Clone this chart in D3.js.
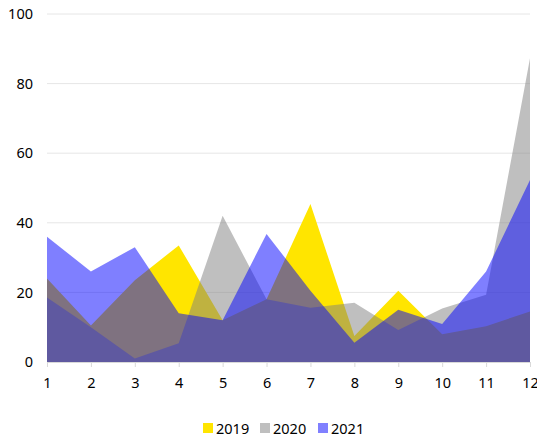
<!DOCTYPE html>
<html>
<head>
<meta charset="utf-8">
<script src="https://cdn.jsdelivr.net/npm/d3@7/dist/d3.min.js"></script>
<style>
  html, body { margin: 0; padding: 0; background: #fff; }
  svg { display: block; font-family: "Noto Sans", "Open Sans", sans-serif; }
</style>
</head>
<body>
<svg id="chart" width="537" height="438"></svg>
<script>
// Monthly values per year
const months = [1, 2, 3, 4, 5, 6, 7, 8, 9, 10, 11, 12];
const values2019 = [24, 10.5, 23.5, 33.5, 12, 18, 45.4, 7.5, 20.5, 8, 10.3, 14.5];
const values2020 = [18.5, 10, 1, 5.4, 42, 18, 15.6, 17, 9.2, 15.4, 19.3, 87.3];
const values2021 = [36, 26, 33, 14, 12, 36.8, 20.5, 5.5, 15, 10.9, 26, 52.3];
const yTicks = [0, 20, 40, 60, 80, 100];
const seriesNames = ["2019", "2020", "2021"];

const series = [
  { name: seriesNames[0], values: values2019, fill: "#ffe500", opacity: 1 },
  { name: seriesNames[1], values: values2020, fill: "#808080", opacity: 0.5 },
  { name: seriesNames[2], values: values2021, fill: "#0000ff", opacity: 0.5 }
];

const svg = d3.select("#chart");
const plotLeft = 47, plotRight = 530, plotTop = 14, plotBottom = 362;

const x = d3.scaleLinear().domain([1, 12]).range([plotLeft, plotRight]);
const y = d3.scaleLinear().domain([0, 100]).range([plotBottom, plotTop]);

// Horizontal gridlines
svg.append("g")
  .selectAll("line")
  .data(yTicks.filter(d => d > 0))
  .join("line")
  .attr("x1", plotLeft).attr("x2", plotRight)
  .attr("y1", d => y(d)).attr("y2", d => y(d))
  .attr("stroke", "#e6e6e6").attr("stroke-width", 1);

// Areas, drawn in year order
const area = d3.area()
  .x((d, i) => x(months[i]))
  .y0(y(0))
  .y1(d => y(d));

svg.append("g")
  .selectAll("path")
  .data(series)
  .join("path")
  .attr("d", s => area(s.values))
  .attr("fill", s => s.fill)
  .attr("fill-opacity", s => s.opacity);

// X axis
const xAxis = d3.axisBottom(x).tickValues(months).tickSize(5).tickPadding(11).tickFormat(d3.format("d"));
const gx = svg.append("g").attr("transform", `translate(0,${plotBottom})`).call(xAxis);
gx.select(".domain").attr("stroke", "#d9d9d9");
gx.selectAll(".tick line").attr("stroke", "#d9d9d9");
gx.selectAll(".tick text").attr("fill", "#000").attr("font-size", 14.5)
  .attr("font-family", "Noto Sans, Open Sans, sans-serif");

// Y axis labels
const yAxis = d3.axisLeft(y).tickValues(yTicks).tickSize(0).tickPadding(14);
const gy = svg.append("g").attr("transform", `translate(${plotLeft},0)`).call(yAxis);
gy.select(".domain").remove();
gy.selectAll(".tick text").attr("fill", "#000").attr("font-size", 14.5)
  .attr("font-family", "Noto Sans, Open Sans, sans-serif");

// Legend
const legendItems = [
  { name: seriesNames[0], color: "#ffe500", x: 203 },
  { name: seriesNames[1], color: "#bfbfbf", x: 260 },
  { name: seriesNames[2], color: "#8080ff", x: 318 }
];
const lg = svg.append("g").selectAll("g").data(legendItems).join("g")
  .attr("transform", d => `translate(${d.x},423)`);
lg.append("rect").attr("width", 10).attr("height", 10).attr("fill", d => d.color);
lg.append("text").attr("x", 13).attr("y", 5.5).attr("dy", "0.35em")
  .attr("font-size", 14.5).attr("fill", "#000").text(d => d.name);
</script>
</body>
</html>
